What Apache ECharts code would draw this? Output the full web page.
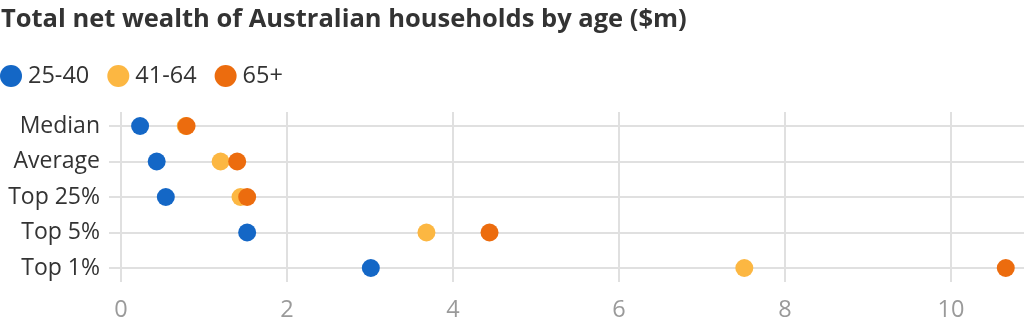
<!DOCTYPE html>
<html>
<head>
<meta charset="utf-8">
<script src="https://cdn.jsdelivr.net/npm/echarts@6/dist/echarts.min.js"></script>
<style>
  html, body { margin: 0; padding: 0; background: #fff; overflow: hidden; }
  /* the plot runs a little past the right edge of the window */
  #chart { width: 1034px; height: 335px; }
</style>
</head>
<body>
<div id="chart"></div>
<script>
// Wealth measures (rows, top to bottom)
const categories = ['Median', 'Average', 'Top 25%', 'Top 5%', 'Top 1%'];
// Net wealth in $m for each age group
const age25to40 = [0.23, 0.43, 0.54, 1.52, 3.01];
const age41to64 = [0.78, 1.20, 1.44, 3.68, 7.51];
const age65plus = [0.79, 1.40, 1.52, 4.44, 10.66];
const seriesNames = ['25-40', '41-64', '65+'];
const xTicks = [0, 2, 4, 6, 8, 10];

const colors = ['#1467c6', '#fcb742', '#ec6c0e'];
const font = '"Open Sans", "Noto Sans", sans-serif';

const chart = echarts.init(document.getElementById('chart'), null, { renderer: 'canvas' });

const xMin = 0, xMax = 11, xStep = xTicks[1] - xTicks[0];
const gridLeft = 121, gridRight = 0;

const option = {
  animation: false,
  backgroundColor: '#fff',
  title: {
    text: 'Total net wealth of Australian households by age ($m)',
    left: 1,
    top: 7,
    padding: 0,
    textStyle: { fontFamily: font, fontSize: 25.5, fontWeight: 'bold', color: '#333' }
  },
  legend: {
    data: seriesNames,
    left: 0,
    top: 64,
    padding: 0,
    icon: 'circle',
    itemWidth: 22,
    itemHeight: 22,
    itemGap: 18,
    textStyle: { fontFamily: font, fontSize: 23.5, color: '#333', padding: [0, 0, 0, 1] }
  },
  grid: [
    // grid for the points and the category rows
    { left: gridLeft, right: gridRight, top: 126, bottom: 67, containLabel: false },
    // taller grid carrying the vertical gridlines and the value labels
    { left: gridLeft, right: gridRight, top: 112, bottom: 53, containLabel: false }
  ],
  xAxis: [
    {
      gridIndex: 0, type: 'value', min: xMin, max: xMax, interval: xStep,
      show: false
    },
    {
      gridIndex: 1, type: 'value', min: xMin, max: xMax, interval: xStep,
      axisLine: { show: false },
      axisTick: { show: false },
      splitLine: { show: true, lineStyle: { color: '#e0e0e0', width: 2 } },
      axisLabel: {
        margin: 16,
        fontFamily: font, fontSize: 23.5, color: '#9a9a9a',
        showMaxLabel: false,
        formatter: v => (xTicks.includes(v) ? String(v) : '')
      }
    }
  ],
  yAxis: [
    {
      gridIndex: 0, type: 'category', data: categories, inverse: true,
      boundaryGap: false,
      axisLine: { show: false },
      axisTick: { show: true, length: 12, lineStyle: { color: '#e0e0e0', width: 2 } },
      splitLine: { show: true, lineStyle: { color: '#e0e0e0', width: 2 } },
      axisLabel: { margin: 21, fontFamily: font, fontSize: 23, color: '#333' }
    },
    { gridIndex: 1, type: 'value', show: false, min: 0, max: 1 }
  ],
  series: [age25to40, age41to64, age65plus].map((vals, i) => ({
    name: seriesNames[i],
    type: 'scatter',
    xAxisIndex: 0,
    yAxisIndex: 0,
    symbol: 'circle',
    symbolSize: 18,
    itemStyle: { color: colors[i], opacity: 1 },
    z: 3 + i,
    data: vals.map((v, j) => [v, categories[j]])
  }))
};

chart.setOption(option);
</script>
</body>
</html>
